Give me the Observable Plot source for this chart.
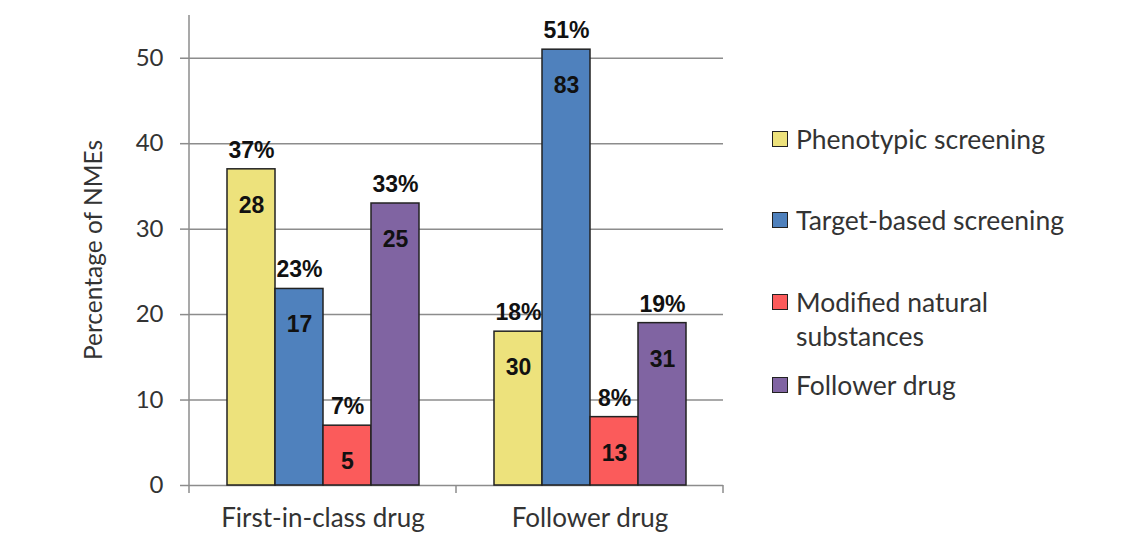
<!DOCTYPE html>
<html>
<head>
<meta charset="utf-8">
<script src="https://cdn.jsdelivr.net/npm/d3@7"></script>
<script src="https://cdn.jsdelivr.net/npm/@observablehq/plot@0.6"></script>
<style>
  html, body { margin: 0; padding: 0; background: #fff; }
  #wrap { position: relative; width: 1138px; height: 537px; overflow: hidden; }
  .leg { position: absolute; left: 772px; font-family: Lato, "Open Sans", sans-serif; font-size: 26.5px; color: #333; line-height: 34px; width: 360px; }
  .leg .sw { position: absolute; left: 0; top: 9px; width: 14px; height: 14px; border: 1.5px solid #222; }
  .leg .tx { margin-left: 24px; }
</style>
</head>
<body>
<div id="wrap"></div>
<script>
const groups = ["First-in-class drug", "Follower drug"];
const series = ["Phenotypic screening", "Target-based screening", "Modified natural substances", "Follower drug"];
const pctFirstInClass = [37, 23, 7, 33];
const pctFollower = [18, 51, 8, 19];
const countFirstInClass = [28, 17, 5, 25];
const countFollower = [30, 83, 13, 31];
const colors = ["#ede27c", "#4f81bd", "#fb5b5b", "#8064a2"];
const yTicks = [0, 10, 20, 30, 40, 50];
const yLabel = "Percentage of NMEs";

const data = [];
series.forEach((s, i) => data.push({group: groups[0], series: s, pct: pctFirstInClass[i], count: countFirstInClass[i]}));
series.forEach((s, i) => data.push({group: groups[1], series: s, pct: pctFollower[i], count: countFollower[i]}));

const gridColor = "#8c8c8c";
const boldFont = "'Liberation Sans', Arial, sans-serif";

const plot = Plot.plot({
  width: 1138,
  height: 537,
  marginLeft: 189,
  marginRight: 415,
  marginTop: 15,
  marginBottom: 52,
  style: {fontFamily: "Lato, 'Open Sans', sans-serif", background: "#fff", color: "#333"},
  fx: {domain: groups, padding: 0, label: null},
  x: {domain: series, paddingInner: 0, paddingOuter: 0.78, axis: null},
  y: {domain: [0, 55], label: null},
  color: {domain: series, range: colors},
  marks: [
    Plot.gridY(yTicks.filter(d => d > 0), {stroke: gridColor, strokeOpacity: 1, strokeWidth: 1.5}),
    Plot.axisY(yTicks, {tickSize: 9, tickPadding: 17, fontSize: 24, stroke: gridColor, strokeWidth: 1.5, label: null, fill: "#333"}),
    Plot.ruleY([0], {stroke: gridColor, strokeWidth: 1.5}),
    Plot.barY(data, {fx: "group", x: "series", y: "pct", fill: "series", stroke: "#222", strokeWidth: 1.5}),
    Plot.text(data, {fx: "group", x: "series", y: "pct", text: d => d.pct + "%", dy: -19, fontWeight: "bold", fontSize: 23, fill: "#111", fontFamily: boldFont}),
    Plot.text(data, {fx: "group", x: "series", y: "pct", text: "count", dy: 36, fontWeight: "bold", fontSize: 23, fill: "#111", fontFamily: boldFont}),
    Plot.axisFx({anchor: "bottom", tickSize: 0, tickPadding: 23, fontSize: 26, label: null, fill: "#333"})
  ]
});

// axis lines and y label, positioned via Plot's scales
const svg = d3.select(plot);
const fx = plot.scale("fx");
const y = plot.scale("y");
const bw = fx.bandwidth;
const xs = [fx.apply(groups[0]), fx.apply(groups[1]), fx.apply(groups[1]) + bw];
const g = svg.append("g").attr("stroke", gridColor).attr("stroke-width", 1.5);
g.append("line").attr("x1", xs[0]).attr("x2", xs[0]).attr("y1", y.apply(55)).attr("y2", y.apply(0) + 8);
xs.slice(1).forEach(x => g.append("line").attr("x1", x).attr("x2", x).attr("y1", y.apply(0)).attr("y2", y.apply(0) + 8));
const yc = (y.apply(0) + y.apply(55)) / 2;
svg.append("text")
  .attr("transform", `translate(${xs[0] - 93},${yc}) rotate(-90)`)
  .attr("text-anchor", "middle")
  .attr("dominant-baseline", "middle")
  .style("font-size", "24.5px")
  .style("font-family", "Lato, 'Open Sans', sans-serif")
  .attr("fill", "#333")
  .text(yLabel);

const wrap = document.getElementById("wrap");
wrap.appendChild(plot);

const legendTops = [122, 203, 285, 368];
series.forEach((s, i) => {
  const item = document.createElement("div");
  item.className = "leg";
  item.style.top = legendTops[i] + "px";
  const sw = document.createElement("div");
  sw.className = "sw";
  sw.style.background = colors[i];
  const tx = document.createElement("div");
  tx.className = "tx";
  tx.style.width = i === 2 ? "250px" : "340px";
  tx.textContent = s;
  item.appendChild(sw);
  item.appendChild(tx);
  wrap.appendChild(item);
});
</script>
</body>
</html>
